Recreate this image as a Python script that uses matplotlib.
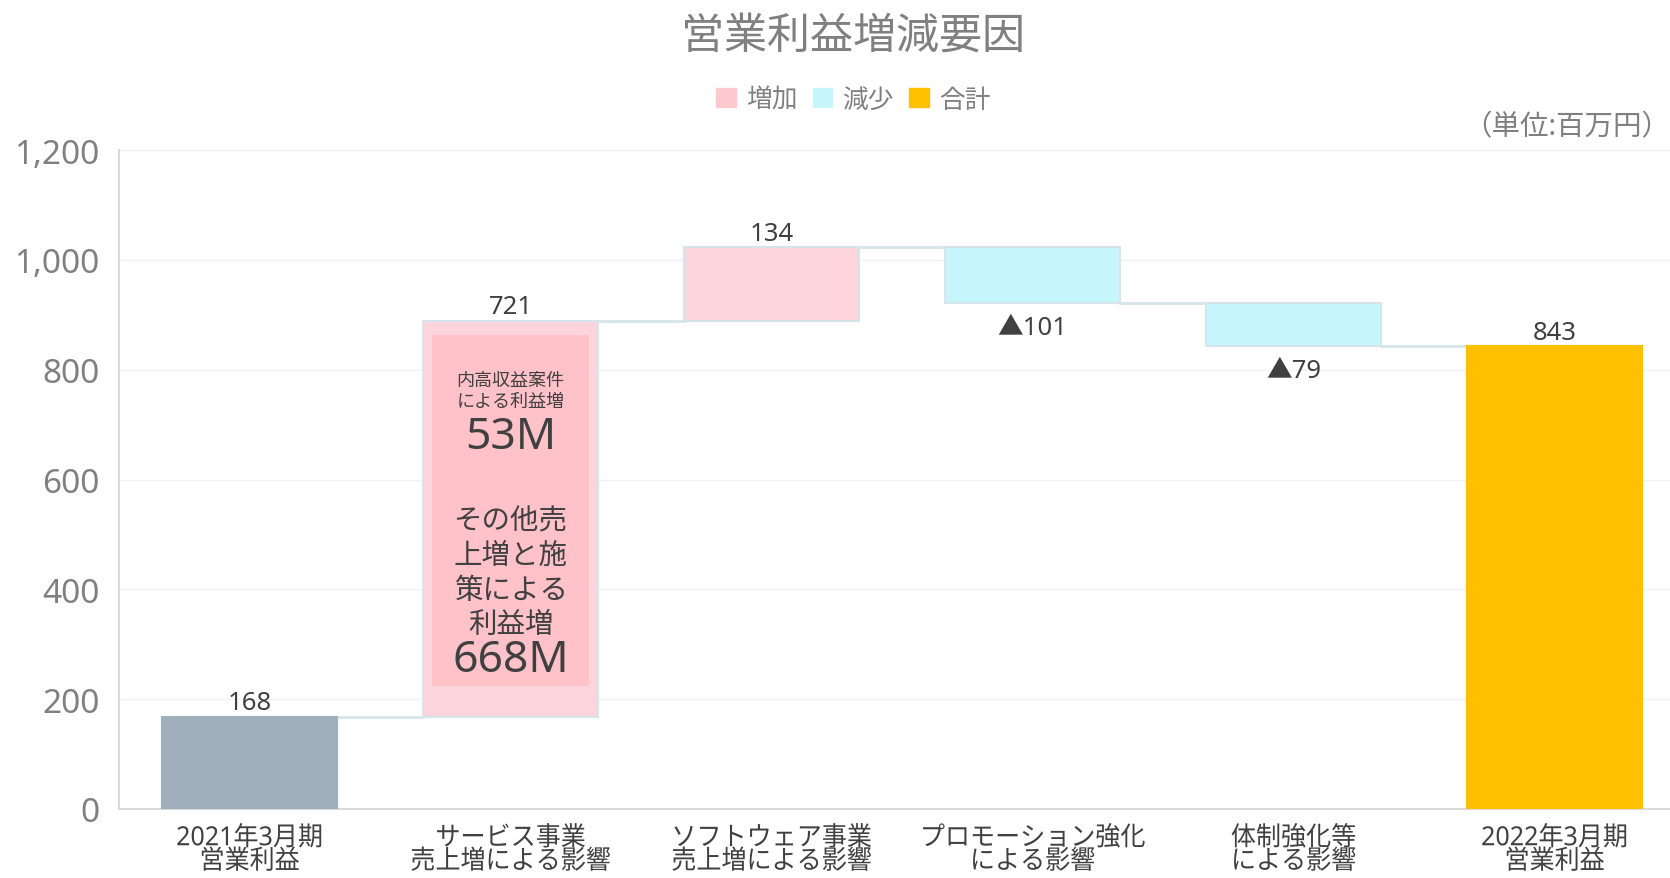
import matplotlib
matplotlib.use("Agg")
import matplotlib.pyplot as plt
from matplotlib.patches import Patch
from matplotlib.patheffects import AbstractPathEffect
from matplotlib.transforms import Affine2D

plt.rcParams['font.family'] = ['Noto Sans', 'Noto Sans CJK JP', 'DejaVu Sans']


# narrow the category labels a bit, like the condensed font in the original
class Squeeze(AbstractPathEffect):
    def __init__(self, sx):
        super().__init__()
        self.sx = sx

    def draw_path(self, renderer, gc, tpath, affine, rgbFace=None):
        ext = tpath.get_extents()
        cx = (ext.x0 + ext.x1) / 2
        t = Affine2D().translate(-cx, 0).scale(self.sx, 1).translate(cx, 0) + affine
        renderer.draw_path(gc, tpath, t, rgbFace)


# data
categories = ["2021年3月期\n営業利益", "サービス事業\n売上増による影響", "ソフトウェア事業\n売上増による影響",
              "プロモーション強化\nによる影響", "体制強化等\nによる影響", "2022年3月期\n営業利益"]
start_value = 168
changes = [721, 134, -101, -79]
end_value = 843
y_ticks = [0, 200, 400, 600, 800, 1000, 1200]

# colours
c_start = "#A0AFBB"
c_up = "#FDD4DB"
c_down = "#C6F6FC"
c_total = "#FFC000"
c_inner = "#FFC2C9"
c_edge = "#D6E4EC"
c_text = "#404040"
c_grey = "#808080"

fig = plt.figure(figsize=(16.7, 8.79), dpi=100)
ax = fig.add_axes([0.0713, 0.0785, 1.009 - 0.0713, 0.828 - 0.0785])

w = 0.67

# build waterfall
bottoms, heights, colors = [0], [start_value], [c_start]
level = start_value
levels = [level]
for ch in changes:
    if ch >= 0:
        bottoms.append(level)
        heights.append(ch)
        colors.append(c_up)
    else:
        bottoms.append(level + ch)
        heights.append(-ch)
        colors.append(c_down)
    level += ch
    levels.append(level)
bottoms.append(0)
heights.append(end_value)
colors.append(c_total)

x = list(range(len(categories)))
for i in x:
    edge = c_edge if 0 < i < len(x) - 1 else colors[i]
    ax.bar(i, heights[i], bottom=bottoms[i], width=w, color=colors[i],
           edgecolor=edge, linewidth=1.5, zorder=3)

# connectors
for i in range(len(levels)):
    ax.plot([i + w / 2, i + 1 - w / 2], [levels[i], levels[i]], color=c_edge, lw=2, zorder=2)

# value labels
ax.text(0, start_value + 3, f"{start_value}", ha="center", va="bottom", fontsize=18.5, color=c_text, zorder=5)
for j, ch in enumerate(changes):
    i = j + 1
    if ch >= 0:
        ax.text(i, bottoms[i] + heights[i] + 3, f"{ch}", ha="center", va="bottom",
                fontsize=18.5, color=c_text, zorder=5)
    else:
        ax.text(i, bottoms[i] - 22, f"▲{-ch}", ha="center", va="top",
                fontsize=18.5, color=c_text, zorder=5)
ax.text(5, end_value + 3, f"{end_value}", ha="center", va="bottom", fontsize=18.5, color=c_text, zorder=5)

# breakdown box inside the service bar
ax.bar(1, (levels[1] - 25) - (bottoms[1] + 56), bottom=bottoms[1] + 56, width=0.6,
       color=c_inner, linewidth=0, zorder=4)
ax.text(1, 763, "内高収益案件\nによる利益増", ha="center", va="center", fontsize=13,
        color=c_text, linespacing=1.2, zorder=5)
ax.text(1, 677, "53M", ha="center", va="center", fontsize=32, color=c_text, zorder=5)
ax.text(1, 430, "その他売\n上増と施\n策による\n利益増", ha="center", va="center", fontsize=20.5,
        color=c_text, linespacing=1.25, zorder=5)
ax.text(1, 271, "668M", ha="center", va="center", fontsize=32, color=c_text, zorder=5)

# axes styling
ax.set_xlim(-0.5, 5.5)
ax.set_ylim(0, 1200)
ax.set_yticks(y_ticks)
ax.set_yticklabels([f"{v:,}" for v in y_ticks])
ax.set_xticks(x)
ax.set_xticklabels(categories, fontsize=19, color=c_text, linespacing=0.78)
for lbl in ax.get_xticklabels():
    lbl.set_path_effects([Squeeze(0.95)])
ax.tick_params(axis="x", length=0, pad=11)
ax.tick_params(axis="y", length=0, pad=14, labelsize=24, labelcolor=c_grey)
ax.grid(axis="y", color="#F2F2F2", lw=1, zorder=0)
for s in ["top", "right"]:
    ax.spines[s].set_visible(False)
for s in ["left", "bottom"]:
    ax.spines[s].set_color("#DADADA")
    ax.spines[s].set_linewidth(1.5)

# title, legend, unit
fig.text(0.511, 0.956, "営業利益増減要因", ha="center", va="center", fontsize=31, color=c_grey)
handles = [Patch(color="#FFC9CF", label="増加"), Patch(color="#C6F5FA", label="減少"),
           Patch(color=c_total, label="合計")]
fig.legend(handles=handles, loc="center", bbox_to_anchor=(0.511, 0.885), ncol=3, frameon=False,
           fontsize=18.5, labelcolor=c_grey, handlelength=0.75, handleheight=0.75,
           handletextpad=0.4, columnspacing=0.6)
fig.text(1.0, 0.855, "（単位:百万円）", ha="right", va="center", fontsize=20.5, color=c_grey)

fig.savefig("out.png", dpi=100)
